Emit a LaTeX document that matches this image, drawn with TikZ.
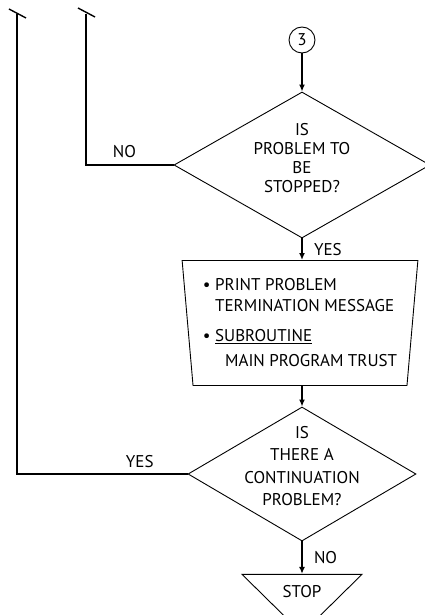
\documentclass[tikz,border=0pt]{standalone}
\usepackage{fontspec}
\setmainfont{PT Sans}
\usetikzlibrary{shapes, arrows.meta, positioning, calc}

\begin{document}
\begin{tikzpicture}[x=1pt,y=-1pt,
	every node/.style={font=\fontsize{17}{19}\selectfont},
	line/.style={line width=1.4pt},
	arr/.style={line width=1.4pt,-{Latex[length=7pt,width=6pt]}},
	decision/.style={draw,line width=0.9pt,shape=diamond,inner sep=0pt,
		minimum width=256pt,minimum height=146pt},
	qtext/.style={align=center,inner sep=0pt},
	manual/.style={draw,line width=0.9pt,shape=trapezium,shape border rotate=180,
		trapezium stretches=true,trapezium angle=83.6,inner sep=0pt,align=left,
		minimum width=236pt,minimum height=125pt},
	stopnode/.style={draw,line width=0.9pt,shape=isosceles triangle,shape border rotate=-90,
		isosceles triangle stretches=true,inner sep=0pt,minimum width=120pt,minimum height=37pt},
	connector/.style={draw,line width=0.9pt,circle,minimum size=26pt,inner sep=0pt}]
	\useasboundingbox (0,0) rectangle (425,615);
	\node[connector] (c3) at (302,40) {3};
	\node[decision] (stopq) at (302,165) {};
	\node[qtext] (stopqt) at (302,158) {IS\\PROBLEM TO\\BE\\STOPPED?};
	\node[manual] (msg) at (300,323) {\textbullet\ PRINT PROBLEM\\[2pt]
		\phantom{\textbullet\ }TERMINATION MESSAGE\\[11pt]
		\textbullet\ \underline{SUBROUTINE}\\[6pt]
		\phantom{\textbullet\ }\hspace{10pt}MAIN PROGRAM TRUST};
	\node[decision,minimum width=228pt,minimum height=134pt] (contq) at (302,474) {};
	\node[qtext,font=\fontsize{17}{22.5}\selectfont] (contqt) at (302,466)
		{IS\\THERE A\\CONTINUATION\\PROBLEM?};
	\node[stopnode] (stop) at (302,592) {STOP};
	\coordinate (topA) at (17,14);
	\coordinate (topB) at (86,14);
	% connectors
	\draw[arr] (c3) -- (stopq.north);
	\draw[arr] (stopq.south) -- (msg.north -| stopq.south) node[midway,right=8pt] (yesA) {YES};
	\draw[arr] (msg.south -| contq.north) -- (contq.north);
	\draw[arr] (contq.south) -- (stop.north -| contq.south) node[midway,right=8pt] (noB) {NO};
	\draw[line] (stopq.west) -| (topB) node[pos=0.28,above=3pt] (noA) {NO};
	\draw[line] (contq.west) -| (topA) node[pos=0.14,above=2pt] (yesB) {YES};
	% ticks at the top
	\draw[line] ([shift={(-8,-5)}]topA) -- ([shift={(9,4)}]topA);
	\draw[line] ([shift={(-8,-6)}]topB) -- ([shift={(9,3)}]topB);
\end{tikzpicture}
\end{document}
